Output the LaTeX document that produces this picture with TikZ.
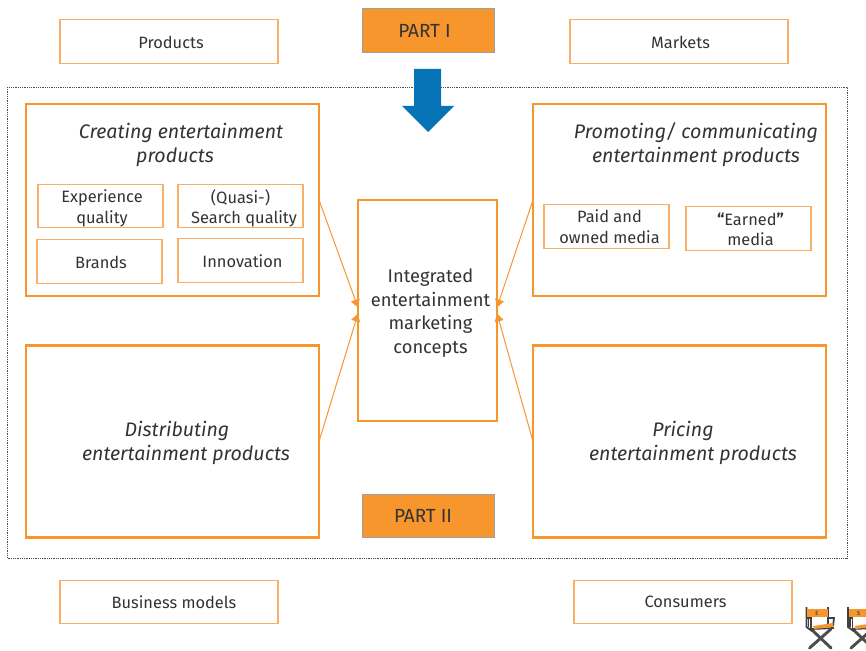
\documentclass[tikz,border=0pt]{standalone}
\usepackage{fontspec}
\setmainfont{Fira Sans}
\usepackage{xcolor}
\usetikzlibrary{arrows.meta}
\definecolor{boxorange}{HTML}{F7962D}
\definecolor{subboxorange}{HTML}{F9B066}
\definecolor{arrowblue}{HTML}{0573B5}
\definecolor{textgray}{HTML}{333333}
\tikzset{
    box/.style={draw=#1, inner sep=0pt, outer sep=0pt},
    say/.style n args={4}{label={[text=textgray, align=center, inner sep=0pt, #1, xshift=#2pt, yshift=#3pt]center:{#4}}},
    subtext/.style={font=\fontsize{16.4}{20.5}\selectfont},
    outertext/.style={font=\fontsize{16.4}{20}\selectfont},
    parttext/.style={font=\fontsize{19}{23}\selectfont},
    conceptstext/.style={font=\fontsize{18.3}{23.8}\selectfont},
    bigbox/.style={box=boxorange, line width=2.2pt, minimum width=293pt, minimum height=192pt},
    subbox/.style={box=subboxorange, line width=1.1pt, minimum width=125pt, minimum height=43.5pt},
    outerbox/.style={box=subboxorange, line width=1.1pt, minimum width=218pt, minimum height=43.5pt},
    partbox/.style={box=gray!75, fill=boxorange, line width=1pt, minimum width=132pt, minimum height=43.5pt},
    title/.style={text=textgray, align=center, inner sep=0pt, font=\fontsize{19.6}{24}\selectfont\itshape},
    link/.style={draw=boxorange, line width=1pt, -{Triangle[length=8pt,width=9pt]}},
    chairleg/.style={draw=black!70, line width=2.9pt, line cap=round},
    chairpost/.style={draw=black!75, line width=1.8pt},
    chairseat/.style={fill=boxorange, draw=none},
}
\newcommand{\chair}[3]{
    \begin{scope}[shift={(#1,#2)}]
        \draw[chairleg] (3.5,41) -- (25,22);
        \draw[chairleg] (25,41) -- (6,23);
        \draw[chairpost] (0.5,0) -- (0.5,20) -- (6,24);
        \draw[chairpost] (22,0) -- (22,20);
        \draw[chairpost] (-0.5,11) -- (5,11) -- (5,22);
        \draw[chairpost] (2.5,11) -- (2.5,20);
        \draw[chairpost] (22,11) -- (28,11) -- (27,19);
        \draw[chairpost] (5,22) -- (28,21);
        \fill[chairseat] (1,1.5) rectangle (21.5,10);
        \fill[chairseat] (7,19) -- (27,16) -- (27,20) -- (8,22) -- cycle;
        \node[text=black!65, inner sep=0pt, font=\fontsize{6}{6}\selectfont\bfseries] at (11,6) {#3};
    \end{scope}
}
\begin{document}
\begin{tikzpicture}[x=1pt, y=-1pt]
    \useasboundingbox (0,0) rectangle (866,650);

    \draw[black!70, line width=0.8pt, densely dotted] (7,87) rectangle (847,558);
    \fill[arrowblue] (414,69) -- (441,69) -- (441,106) -- (454,106) -- (428,132) -- (402,106) -- (414,106) -- cycle;

    \node[outerbox, say={outertext}{2}{-1}{Products}] (products) at (169,41.5) {};
    \node[outerbox, say={outertext}{1.5}{-1}{Markets}] (markets) at (679,41.5) {};
    \node[partbox, say={parttext}{-3.5}{0}{PART I}] (part1) at (428,30.5) {};
    \node[partbox, say={parttext}{-5}{0}{PART II}] (part2) at (428,516) {};
    \node[outerbox, say={outertext}{5}{0}{Business models}] (models) at (169,602) {};
    \node[outerbox, say={outertext}{2.5}{0}{Consumers}] (consumers) at (683,602) {};

    \node[bigbox] (creating) at (172.5,200) {};
    \node[bigbox] (promoting) at (679.5,200) {};
    \node[bigbox] (distributing) at (172.5,441.5) {};
    \node[bigbox] (pricing) at (679.5,441.5) {};
    \node[box=boxorange, line width=2.2pt, minimum width=139pt, minimum height=221pt,
        say={conceptstext}{3}{-2.5}{Integrated\\entertainment\\marketing\\concepts}] (concepts) at (427.5,310.5) {};

    \node[title] (creatingtitle) at (181,145) {Creating entertainment\\products\hspace*{12pt}};
    \node[title] (promotingtitle) at (696,145) {Promoting/ communicating\\entertainment products};
    \node[title] (distributingtitle) at (186,443) {Distributing\hspace*{18pt}\\entertainment products};
    \node[title] (pricingtitle) at (693,443) {Pricing\hspace*{20pt}\\entertainment products};

    \node[subbox, say={subtext}{1.5}{-2.5}{Experience\\quality}] (experience) at (100.5,206) {};
    \node[subbox, say={subtext}{3.5}{-2.5}{(Quasi-)\hspace*{7pt}\\Search quality}] (search) at (240.5,206) {};
    \node[subbox, say={subtext}{1.5}{-1}{Brands}] (brands) at (99.5,261.5) {};
    \node[subbox, say={subtext}{2}{-1}{Innovation}] (innovation) at (240.5,260.5) {};
    \node[subbox, say={subtext}{3}{0}{Paid and\\owned media}] (paid) at (606.5,226.5) {};
    \node[subbox, say={subtext}{2}{-1}{\textbf{“}Earned\textbf{”}\\media}] (earned) at (748.5,228.5) {};

    \draw[link] (creating.east) -- ([yshift=3pt]concepts.west);
    \draw[link] (distributing.east) -- ([yshift=-3pt]concepts.west);
    \draw[link] (promoting.west) -- ([yshift=3pt]concepts.east);
    \draw[link] (pricing.west) -- ([yshift=-3pt]concepts.east);

    \chair{806}{607}{E}
    \chair{847.5}{607}{S}
\end{tikzpicture}
\end{document}
